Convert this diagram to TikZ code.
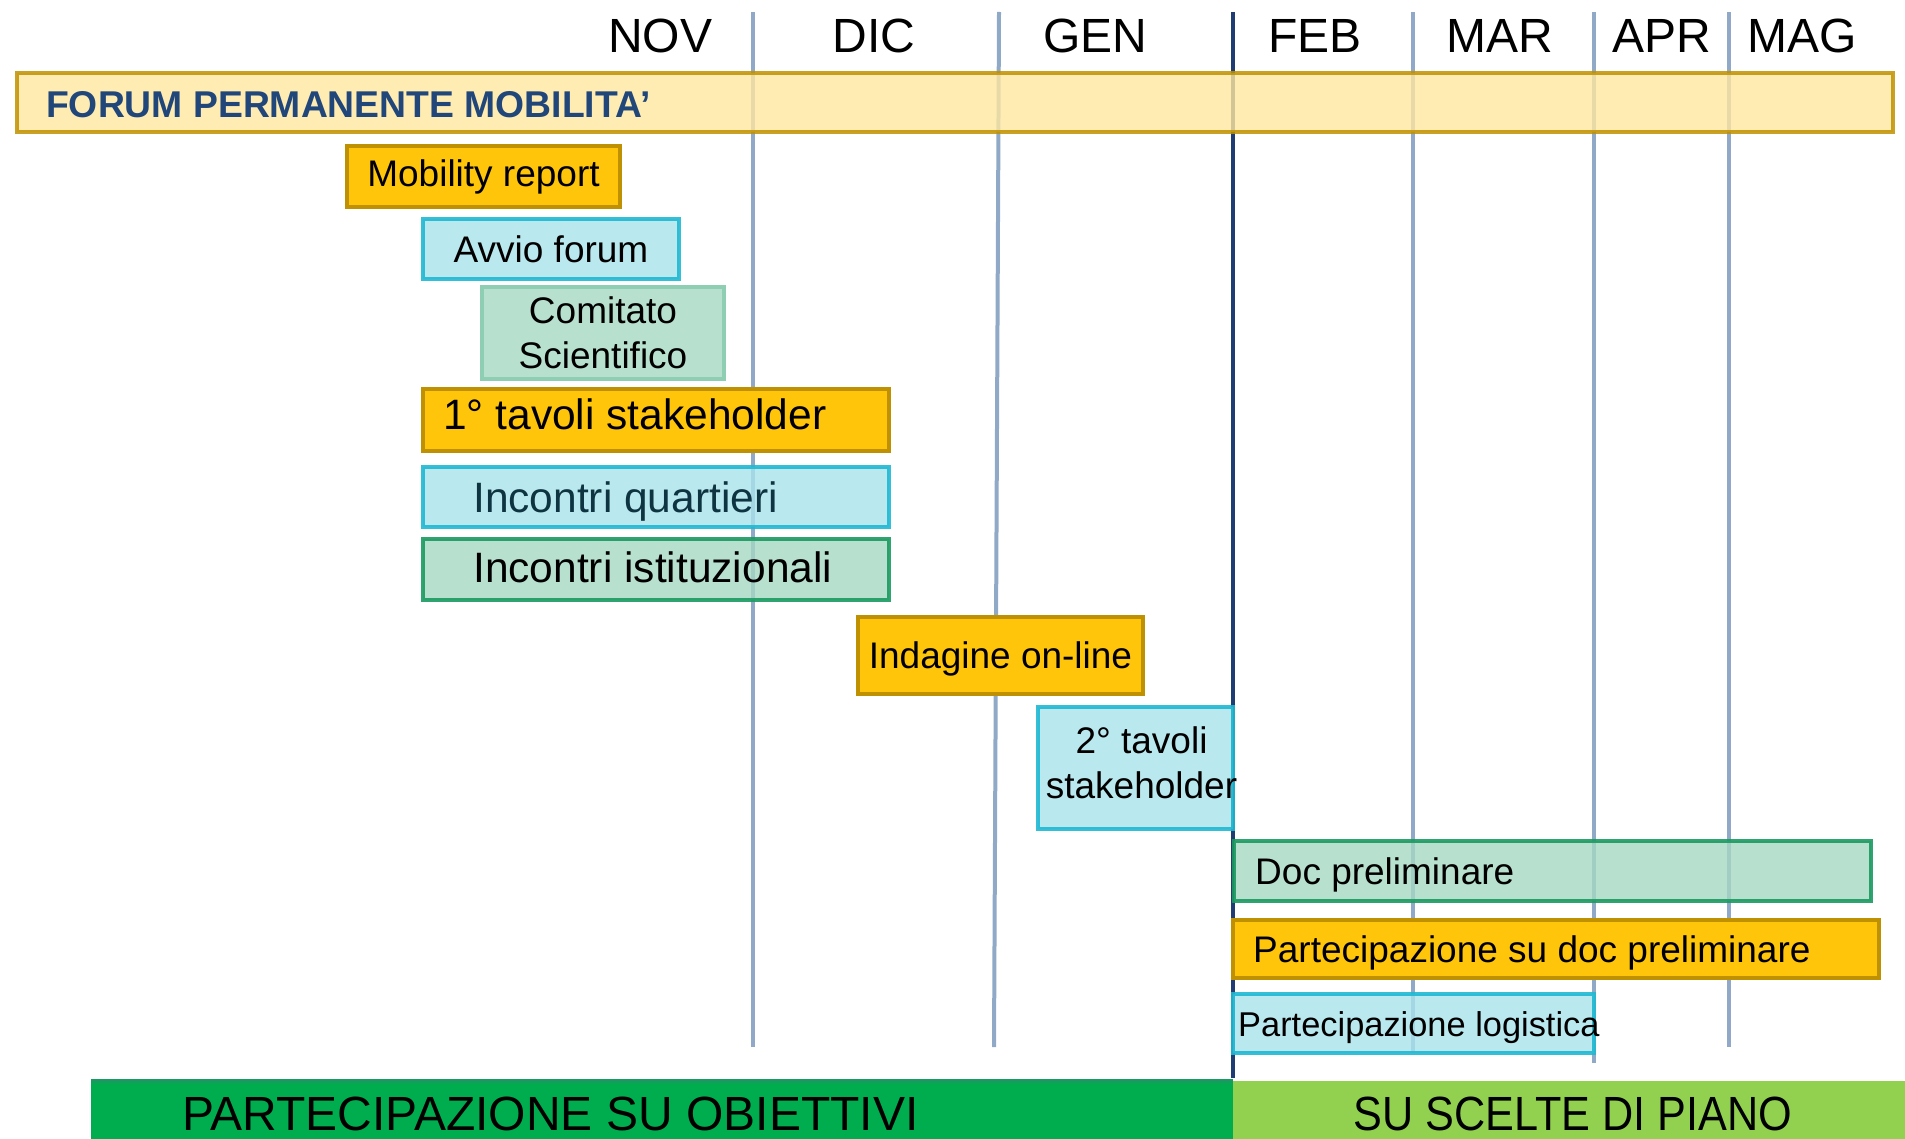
\documentclass[tikz,border=0pt]{standalone}
\usepackage{fontspec}
\setmainfont{Liberation Sans}
\newfontfamily\narrowsans[FakeStretch=0.9]{Liberation Sans}
\usepackage{xcolor}
\usepackage{tikz}
\usetikzlibrary{positioning}

\definecolor{golddark}{HTML}{BF9000}
\definecolor{gold}{HTML}{FFC50A}
\definecolor{forumfill}{HTML}{FFE7A0}
\definecolor{forumblue}{HTML}{21477A}
\definecolor{cyanpale}{HTML}{A8E3EB}
\definecolor{cyanline}{HTML}{1FB8D2}
\definecolor{greenpale}{HTML}{A6D8C2}
\definecolor{greenline}{HTML}{1A9A60}
\definecolor{comline}{HTML}{8ECFB3}
\definecolor{monthgray}{HTML}{8FA9C7}
\definecolor{febblue}{HTML}{1F3D72}
\definecolor{obgreen}{HTML}{00AD4E}
\definecolor{scgreen}{HTML}{92D050}
\definecolor{tealtext}{HTML}{0D3440}

\tikzset{
  bar/.style={inner sep=0pt, outer sep=0pt, anchor=north west, line width=4.5pt},
  goldbox/.style={bar, fill=gold, draw=golddark},
  forumbox/.style={bar, fill=forumfill, draw=golddark, fill opacity=0.8, draw opacity=0.85, text opacity=1},
  cyanbox/.style={bar, fill=cyanpale, draw=cyanline, fill opacity=0.8, draw opacity=0.9, text opacity=1},
  greenbox/.style={bar, fill=greenpale, draw=greenline, fill opacity=0.8, draw opacity=0.9, text opacity=1},
  combox/.style={bar, fill=greenpale, draw=comline, line width=3.5pt, fill opacity=0.8, text opacity=1},
  monthline/.style={monthgray, line width=4pt},
  febline/.style={febblue, line width=4pt},
  month/.style={inner sep=0pt, font=\fontsize{48}{48}\selectfont},
  txt/.style={font=\fontsize{37}{45}\selectfont},
  bigtxt/.style={inner sep=0pt, font=\fontsize{42.5}{48}\selectfont},
  lefttxt/.style={inner sep=0pt, font=\fontsize{37}{45}\selectfont},
  forumtxt/.style={inner sep=0pt, text=forumblue, font=\fontsize{37.3}{40}\selectfont\bfseries},
  bottomtxt/.style={inner sep=0pt, font=\fontsize{48}{50}\selectfont}
}

\begin{document}
\begin{tikzpicture}[x=1pt, y=-1pt]
\useasboundingbox (0,0) rectangle (1905,1139);

\foreach \x/\y in {753/1047, 1413/1053, 1594/1063, 1729/1047}
  \draw[monthline] (\x,12) -- (\x,\y);
\draw[monthline] (999,12) -- (994,1047);
\draw[febline] (1233,12) -- (1233,1078);

\foreach \m/\x in {NOV/660, DIC/874, GEN/1095, FEB/1315, MAR/1500, APR/1662, MAG/1802}
  \node[month] (\m) at (\x,36) {\m};

\node[forumbox, minimum width=1876pt, minimum height=59pt] (forum) at (17,73) {};
\node[forumtxt, right=29pt of forum.west, yshift=-2.5pt] (forumT) {FORUM PERMANENTE MOBILITA’};

\node[goldbox, txt, minimum width=273pt, minimum height=61pt] (mob) at (347,146) {Mobility report};
\node[cyanbox, txt, minimum width=256pt, minimum height=60pt] (avvio) at (423,219) {Avvio forum};
\node[combox, txt, align=center, minimum width=242pt, minimum height=92pt] (comit) at (482,287) {Comitato\\Scientifico};

\node[goldbox, minimum width=466pt, minimum height=62pt] (tav1) at (423,389) {};
\node[bigtxt, right=20pt of tav1.west, yshift=6pt] (tav1T) {1° tavoli stakeholder};
\node[cyanbox, minimum width=466pt, minimum height=60pt] (quart) at (423,467) {};
\node[bigtxt, text=tealtext, right=50pt of quart.west, yshift=-5pt] (quartT) {Incontri quartieri};
\node[greenbox, minimum width=466pt, minimum height=61pt] (istit) at (423,539) {};
\node[bigtxt, right=50pt of istit.west, yshift=2pt] (istitT) {Incontri istituzionali};

\node[goldbox, minimum width=285pt, minimum height=77pt] (indag) at (858,617) {};
\node[txt, yshift=-3pt] (indagT) at (indag.center) {Indagine on-line};
\node[cyanbox, minimum width=195pt, minimum height=122pt] (tav2) at (1038,707) {};
\node[txt, align=center, xshift=6pt, yshift=5pt] (tav2T) at (tav2.center) {2° tavoli\\stakeholder};

\node[greenbox, minimum width=637pt, minimum height=60pt] (doc) at (1234,841) {};
\node[lefttxt, right=21pt of doc.west, yshift=-4pt] (docT) {Doc preliminare};
\node[goldbox, minimum width=646pt, minimum height=58pt] (partdoc) at (1233,920) {};
\node[lefttxt, right=20pt of partdoc.west, yshift=-4pt] (partdocT) {Partecipazione su doc preliminare};
\node[cyanbox, minimum width=361pt, minimum height=59pt] (logis) at (1233,994) {};
\node[inner sep=0pt, font=\fontsize{34.4}{40}\selectfont, right=5pt of logis.west, yshift=-4pt] (logisT) {Partecipazione logistica};

\node[bar, fill=obgreen, minimum width=1142pt, minimum height=58pt] (obiett) at (91,1081) {};
\draw[greenline, line width=4pt] (obiett.north west) -- (obiett.north east);
\node[bottomtxt, right=91pt of obiett.west, yshift=-4pt] (obiettT) {PARTECIPAZIONE SU OBIETTIVI};
\node[bar, fill=scgreen, minimum width=672pt, minimum height=58pt] (scelte) at (1233,1081) {};
\node[bottomtxt, font=\narrowsans\fontsize{48}{50}\selectfont, yshift=-4pt, xshift=4pt] (scelteT) at (scelte.center) {SU SCELTE DI PIANO};
\end{tikzpicture}
\end{document}
